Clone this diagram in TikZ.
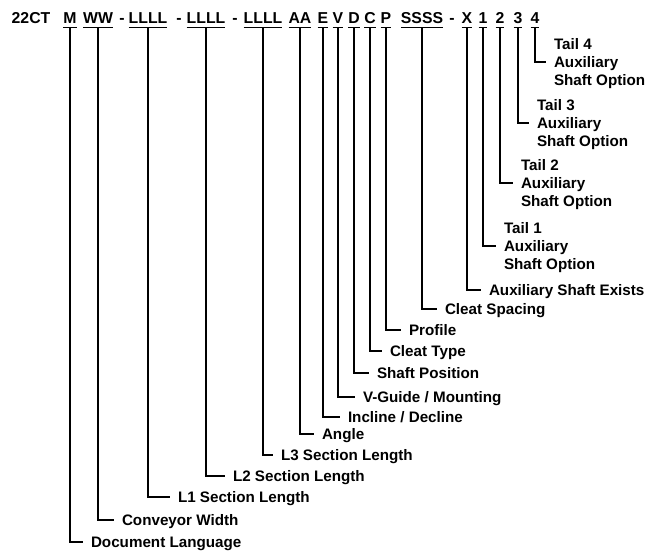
\documentclass[tikz,border=0pt]{standalone}
\usepackage{fontspec}
\setmainfont{Liberation Sans}
\begin{document}
\begin{tikzpicture}[x=1pt,y=-1pt,
  code/.style={inner sep=0pt, outer sep=0pt, anchor=base, font=\fontsize{15.8}{18}\selectfont\bfseries},
  lbl/.style={inner sep=0pt, outer sep=0pt, anchor=west, text height=10.9pt, text depth=0pt, font=\fontsize{15.2}{18.3}\selectfont\bfseries},
  lbl3/.style={inner sep=0pt, outer sep=0pt, anchor=west, align=left, text depth=0pt, font=\fontsize{15.2}{18.3}\selectfont\bfseries},
  conn/.style={draw=black, line width=1.3pt},
  ul/.style={draw=black, line width=1.2pt}]
\useasboundingbox (0,0) rectangle (665,552);

% code line
\node[code] (pre) at (31,23) {22CT};
\node[code] (m) at (70,23) {M};
\node[code] (ww) at (98,23) {WW};
\node[code] (h1) at (122,23) {-};
\node[code] (la) at (148,23) {LLLL};
\node[code] (h2) at (179,23) {-};
\node[code] (lb) at (206,23) {LLLL};
\node[code] (h3) at (235,23) {-};
\node[code] (lc) at (263,23) {LLLL};
\node[code] (aa) at (300,23) {AA};
\node[code] (e) at (323,23) {E};
\node[code] (v) at (338,23) {V};
\node[code] (d) at (354,23) {D};
\node[code] (c) at (370,23) {C};
\node[code] (p) at (386,23) {P};
\node[code] (ss) at (422,23) {SSSS};
\node[code] (h4) at (452,23) {-};
\node[code] (xx) at (467,23) {X};
\node[code] (t1) at (483,23) {1};
\node[code] (t2) at (500,23) {2};
\node[code] (t3) at (518,23) {3};
\node[code] (t4) at (535,23) {4};

% labels
\node[lbl] (nm) at (91,542) {Document Language};
\node[lbl] (nww) at (122,520) {Conveyor Width};
\node[lbl] (nla) at (178,497) {L1 Section Length};
\node[lbl] (nlb) at (233,476) {L2 Section Length};
\node[lbl] (nlc) at (281,455) {L3 Section Length};
\node[lbl] (naa) at (322,434) {Angle};
\node[lbl] (ne) at (348,417) {Incline / Decline};
\node[lbl] (nv) at (363,397) {V-Guide / Mounting};
\node[lbl] (nd) at (377,373) {Shaft Position};
\node[lbl] (nc) at (390,351) {Cleat Type};
\node[lbl] (np) at (409,330) {Profile};
\node[lbl] (nss) at (445,309) {Cleat Spacing};
\node[lbl] (nxx) at (489,290) {Auxiliary Shaft Exists};
\node[lbl3] (nt1) at (504,246) {Tail 1\\Auxiliary\\Shaft Option};
\node[lbl3] (nt2) at (521,183) {Tail 2\\Auxiliary\\Shaft Option};
\node[lbl3] (nt3) at (537,123) {Tail 3\\Auxiliary\\Shaft Option};
\node[lbl3] (nt4) at (554,62) {Tail 4\\Auxiliary\\Shaft Option};

% underlines and connectors
\foreach \a/\b in {m/nm, ww/nww, la/nla, lb/nlb, lc/nlc, aa/naa, e/ne, v/nv, d/nd, c/nc, p/np, ss/nss, xx/nxx, t1/nt1, t2/nt2, t3/nt3, t4/nt4}{
  \draw[ul] ([yshift=-4.5pt]\a.base west) -- ([yshift=-4.5pt]\a.base east);
  \draw[conn] ([yshift=-4.5pt]\a.base) |- ([xshift=-8pt]\b.west);
}
\end{tikzpicture}
\end{document}
